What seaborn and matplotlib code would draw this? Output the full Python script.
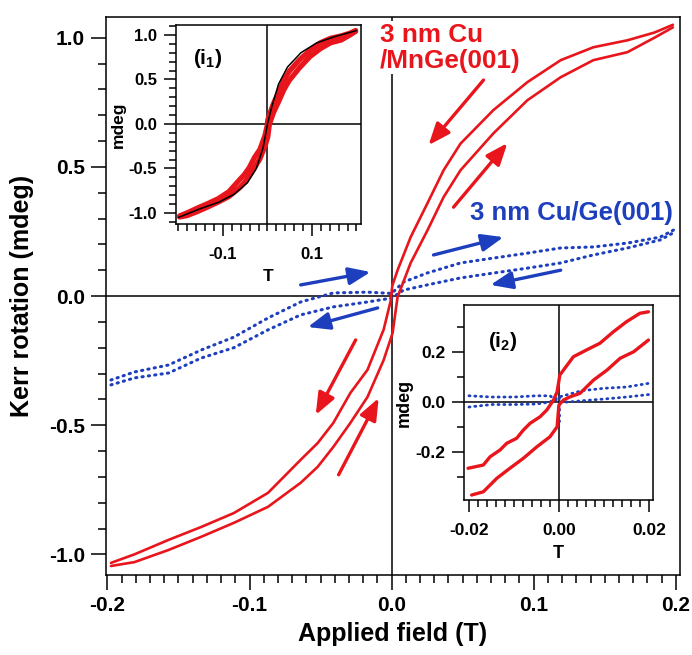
import matplotlib
matplotlib.use("Agg")
import matplotlib.pyplot as plt
import seaborn as sns
import pandas as pd
from matplotlib.ticker import MultipleLocator, FixedLocator

# ---------------- data ----------------
# 3 nm Cu / MnGe(001): descending branch (upper) and ascending branch (lower)
mn_down_x = [0.198, 0.185, 0.166, 0.142, 0.119, 0.0956, 0.0717, 0.0485, 0.0366, 0.0253,
             0.0134, 0.0042, 0.0005, -0.0007, -0.0056, -0.017, -0.029, -0.041, -0.052,
             -0.064, -0.087, -0.111, -0.134, -0.157, -0.181, -0.1975]
mn_down_y = [1.05, 1.02, 0.99, 0.963, 0.913, 0.828, 0.72, 0.59, 0.487, 0.36,
             0.228, 0.10, 0.04, -0.02, -0.13, -0.286, -0.375, -0.491, -0.569,
             -0.634, -0.762, -0.84, -0.894, -0.944, -1.0, -1.033]
mn_up_x = [-0.1975, -0.181, -0.157, -0.134, -0.111, -0.087, -0.064, -0.052, -0.041, -0.029,
           -0.017, -0.0056, 0.0007, 0.0042, 0.0134, 0.0253, 0.0366, 0.0485, 0.0717,
           0.0956, 0.119, 0.142, 0.166, 0.185, 0.198]
mn_up_y = [-1.045, -1.03, -0.983, -0.932, -0.878, -0.816, -0.723, -0.661, -0.584, -0.491,
           -0.391, -0.248, -0.143, -0.004, 0.128, 0.255, 0.383, 0.487, 0.63,
           0.758, 0.847, 0.913, 0.944, 1.0, 1.04]

# 3 nm Cu / Ge(001): two branches
ge_x = [-0.1975, -0.181, -0.157, -0.134, -0.111, -0.087, -0.064, -0.041, -0.017, 0.0,
        0.0084, 0.025, 0.0485, 0.0717, 0.0956, 0.119, 0.142, 0.166, 0.189, 0.2]
ge_a_y = [-0.325, -0.294, -0.267, -0.209, -0.159, -0.085, -0.023, 0.012, 0.015, 0.01,
          0.054, 0.089, 0.128, 0.147, 0.166, 0.186, 0.19, 0.205, 0.228, 0.26]
ge_b_y = [-0.344, -0.317, -0.298, -0.24, -0.2, -0.131, -0.073, -0.042, -0.023, -0.008,
          0.023, 0.043, 0.07, 0.089, 0.108, 0.128, 0.159, 0.186, 0.217, 0.25]

# inset (i1): fit curve
fit_x = [-0.2, -0.15, -0.11, -0.075, -0.045, -0.025, -0.01, 0.0, 0.01, 0.025, 0.045,
         0.075, 0.11, 0.15, 0.2]
fit_y = [-1.05, -0.95, -0.88, -0.79, -0.66, -0.5, -0.27, 0.0, 0.2, 0.45, 0.64,
         0.8, 0.91, 0.98, 1.05]

# inset (i2): zoom around zero field
i2_up_x = [-0.0202, -0.0168, -0.0153, -0.0131, -0.0116, -0.0094, -0.0079, -0.0064, -0.0042,
           -0.0027, -0.0012, -0.0004, 0.0002, 0.0032, 0.0061, 0.0091, 0.0121, 0.0150,
           0.0180, 0.0199]
i2_up_y = [-0.265, -0.252, -0.219, -0.192, -0.165, -0.145, -0.112, -0.085, -0.059,
           -0.032, 0.008, 0.041, 0.108, 0.181, 0.208, 0.235, 0.281, 0.321, 0.355, 0.361]
i2_lo_x = [-0.0194, -0.0168, -0.0138, -0.0109, -0.0079, -0.0049, -0.0020, -0.0004, 0.0,
           0.0010, 0.0025, 0.0047, 0.0077, 0.0107, 0.0136, 0.0166, 0.0199]
i2_lo_y = [-0.372, -0.359, -0.305, -0.265, -0.225, -0.179, -0.139, -0.099, -0.012,
           0.008, 0.021, 0.035, 0.088, 0.128, 0.175, 0.201, 0.248]
i2_ge_x = [-0.02, -0.015, -0.01, -0.005, -0.002, 0.0, 0.002, 0.005, 0.01, 0.015, 0.02]
i2_ge_a_y = [0.025, 0.02, 0.02, 0.025, 0.025, 0.0, 0.0, 0.005, 0.012, 0.02, 0.03]
i2_ge_b_y = [-0.02, -0.01, -0.01, -0.008, 0.0, 0.02, 0.03, 0.045, 0.055, 0.06, 0.075]
i2_ge_zero_x = [0.0, 0.0, 0.0, 0.0]
i2_ge_zero_y = [0.02, -0.02, -0.05, -0.075]

# text labels
x_ticks = [-0.2, -0.1, 0.0, 0.1, 0.2]
y_ticks = [-1.0, -0.5, 0.0, 0.5, 1.0]
label_mn = "3 nm Cu\n/MnGe(001)"
label_ge = "3 nm Cu/Ge(001)"

# ---------------- style ----------------
sns.set_theme(style="ticks")
plt.rcParams["font.family"] = ["Liberation Sans", "DejaVu Sans"]
plt.rcParams["font.weight"] = "bold"
plt.rcParams["axes.labelweight"] = "bold"
plt.rcParams["axes.labelcolor"] = "black"
plt.rcParams["text.color"] = "black"
plt.rcParams["mathtext.fontset"] = "custom"
plt.rcParams["mathtext.rm"] = "Liberation Sans:bold"
plt.rcParams["mathtext.bf"] = "Liberation Sans:bold"
plt.rcParams["mathtext.it"] = "Liberation Sans:bold"

RED = "#e8161c"
BLUE = "#1d3fbd"
DOT = (0, (0.4, 1.7))


def style_axes(ax, lab, maj_len, min_len, pad):
    for s in ax.spines.values():
        s.set_visible(True)
        s.set_linewidth(1.1)
        s.set_color("black")
    ax.tick_params(which="both", direction="out", top=False, right=False,
                   color="black", width=1.1, labelcolor="black")
    ax.tick_params(which="major", length=maj_len, labelsize=lab, pad=pad)
    ax.tick_params(which="minor", length=min_len)
    for t in ax.get_xticklabels() + ax.get_yticklabels():
        t.set_fontweight("bold")
    ax.axhline(0, color="black", lw=1.1, zorder=1)
    ax.axvline(0, color="black", lw=1.1, zorder=1)
    ax.grid(False)


def line(ax, x, y, color, lw, **kw):
    df = pd.DataFrame({"x": x, "y": y})
    sns.lineplot(data=df, x="x", y="y", sort=False, estimator=None, ax=ax,
                 color=color, lw=lw, legend=False, zorder=3, **kw)


fig = plt.figure(figsize=(6.92, 6.55), dpi=100)
fig.patch.set_facecolor("white")

# ---------------- main axes ----------------
ax = fig.add_axes([0.1532, 0.1221, 0.8295, 0.8519])
line(ax, ge_x, ge_a_y, BLUE, 2.2, linestyle=DOT, dash_capstyle="round")
line(ax, ge_x, ge_b_y, BLUE, 2.2, linestyle=DOT, dash_capstyle="round")
line(ax, mn_down_x, mn_down_y, RED, 1.9)
line(ax, mn_up_x, mn_up_y, RED, 1.9)

ax.set_xlim(-0.201, 0.203)
ax.set_ylim(-1.08, 1.08)
ax.xaxis.set_major_locator(FixedLocator(x_ticks))
ax.yaxis.set_major_locator(FixedLocator(y_ticks))
ax.xaxis.set_minor_locator(MultipleLocator(0.01))
ax.yaxis.set_minor_locator(MultipleLocator(0.1))
ax.set_xticklabels([f"{v:.1f}" for v in x_ticks])
ax.set_yticklabels([f"{v:.1f}" for v in y_ticks])
style_axes(ax, 15, 11, 5.5, 4)
ax.set_xlabel("Applied field (T)", fontsize=18, fontweight="bold", color="black")
ax.set_ylabel("Kerr rotation (mdeg)", fontsize=18, fontweight="bold", color="black")
ax.xaxis.set_label_coords(0.5, -0.085)
ax.yaxis.set_label_coords(-0.125, 0.5)

# arrows
arrow_kw = dict(arrowstyle="-|>,head_length=0.6,head_width=0.24",
                lw=2.4, shrinkA=0, shrinkB=0, mutation_scale=22)
red_arrows = [((0.0647, 0.836), (0.026, 0.584)),
              ((0.0436, 0.344), (0.0815, 0.592)),
              ((-0.0253, -0.17), (-0.0534, -0.46)),
              ((-0.0373, -0.692), (-0.0091, -0.395))]
blue_arrows = [((0.0295, 0.159), (0.0787, 0.228)),
               ((0.119, 0.10), (0.0696, 0.043)),
               ((-0.064, 0.043), (-0.0148, 0.093)),
               ((-0.0098, -0.046), (-0.059, -0.12))]
for tail, head in red_arrows:
    ax.annotate("", xy=head, xytext=tail,
                arrowprops=dict(color=RED, **arrow_kw), zorder=4)
for tail, head in blue_arrows:
    ax.annotate("", xy=head, xytext=tail,
                arrowprops=dict(color=BLUE, **arrow_kw), zorder=4)

ax.text(-0.0085, 1.058, label_mn, color=RED, fontsize=18.8, fontweight="bold",
        ha="left", va="top", linespacing=1.12, zorder=5,
        bbox=dict(facecolor="white", edgecolor="none", pad=1))
ax.text(0.0555, 0.321, label_ge, color=BLUE, fontsize=18.5, fontweight="bold",
        ha="left", va="center", zorder=5)

# ---------------- inset i1 ----------------
ax1 = fig.add_axes([0.2543, 0.658, 0.2673, 0.3038])
ax1.set_facecolor("white")
line(ax1, mn_down_x, mn_down_y, RED, 3.8)
line(ax1, mn_up_x, mn_up_y, RED, 3.8)
line(ax1, fit_x, fit_y, "black", 1.1)
ax1.set_xlim(-0.2056, 0.21)
ax1.set_ylim(-1.124, 1.112)
ax1.xaxis.set_major_locator(FixedLocator([-0.1, 0.1]))
ax1.xaxis.set_minor_locator(MultipleLocator(0.02))
ax1.yaxis.set_major_locator(FixedLocator([-1.0, -0.5, 0.0, 0.5, 1.0]))
ax1.yaxis.set_minor_locator(MultipleLocator(0.1))
ax1.set_xticklabels(["-0.1", "0.1"])
ax1.set_yticklabels(["-1.0", "-0.5", "0.0", "0.5", "1.0"])
style_axes(ax1, 12, 8.5, 5, 5)
ax1.tick_params(axis="x", which="major", pad=8)
ax1.set_xlabel("T", fontsize=12.5, fontweight="bold", labelpad=5)
ax1.set_ylabel("mdeg", fontsize=12.5, fontweight="bold", labelpad=2)
ax1.text(-0.168, 0.74, r"(i$_{1}$)", fontsize=15, fontweight="bold",
         ha="left", va="center")

# ---------------- inset i2 ----------------
ax2 = fig.add_axes([0.6705, 0.2366, 0.2731, 0.2977])
ax2.set_facecolor("white")
line(ax2, i2_ge_x, i2_ge_a_y, BLUE, 2.0, linestyle=DOT, dash_capstyle="round")
line(ax2, i2_ge_x, i2_ge_b_y, BLUE, 2.0, linestyle=DOT, dash_capstyle="round")
line(ax2, i2_ge_zero_x, i2_ge_zero_y, BLUE, 2.0, linestyle=DOT, dash_capstyle="round")
line(ax2, i2_up_x, i2_up_y, RED, 2.4)
line(ax2, i2_lo_x, i2_lo_y, RED, 2.4)
ax2.set_xlim(-0.0211, 0.0209)
ax2.set_ylim(-0.392, 0.388)
ax2.xaxis.set_major_locator(FixedLocator([-0.02, 0.0, 0.02]))
ax2.xaxis.set_minor_locator(MultipleLocator(0.002))
ax2.yaxis.set_major_locator(FixedLocator([-0.2, 0.0, 0.2]))
ax2.yaxis.set_minor_locator(MultipleLocator(0.1))
ax2.set_xticklabels(["-0.02", "0.00", "0.02"])
ax2.set_yticklabels(["-0.2", "0.0", "0.2"])
style_axes(ax2, 12.5, 8.5, 5, 5)
ax2.tick_params(axis="x", which="major", pad=8)
ax2.set_xlabel("T", fontsize=13, fontweight="bold", labelpad=5)
ax2.set_ylabel("mdeg", fontsize=13, fontweight="bold", labelpad=2)
ax2.text(-0.0158, 0.244, r"(i$_{2}$)", fontsize=15, fontweight="bold",
         ha="left", va="center")

fig.savefig("out.png", dpi=100, facecolor="white")
